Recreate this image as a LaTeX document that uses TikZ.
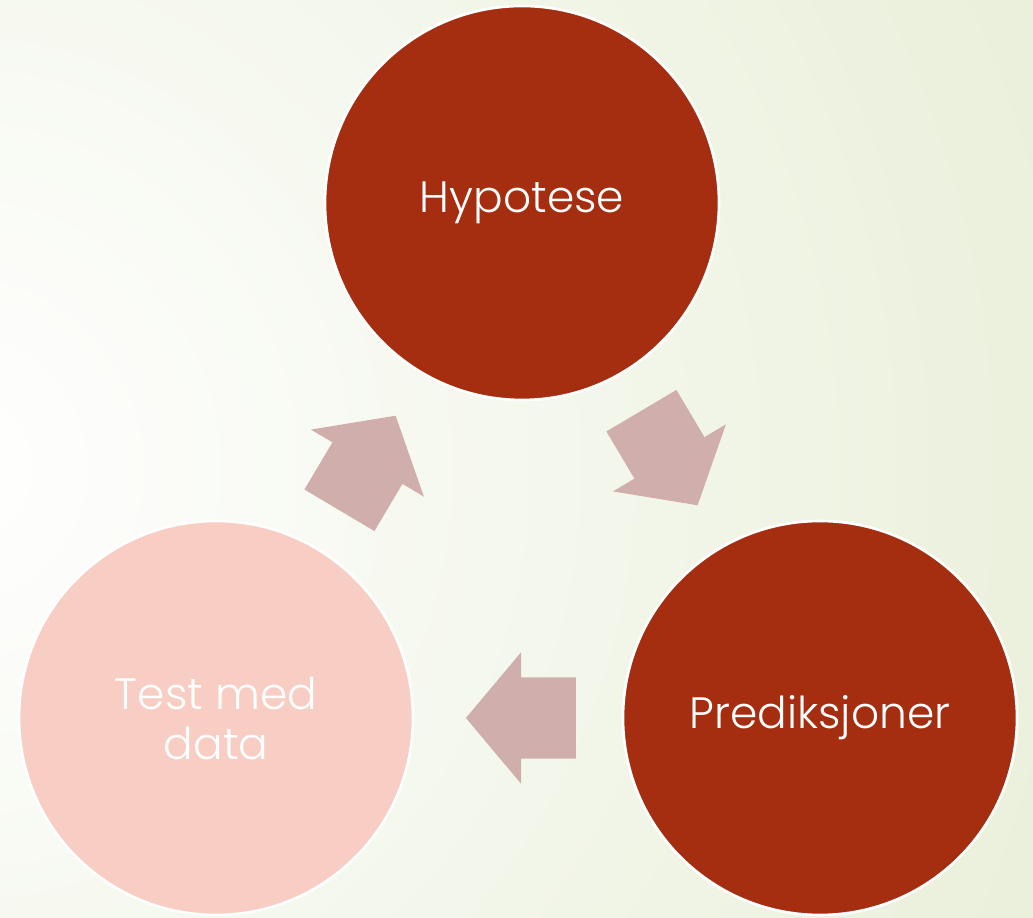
\documentclass[tikz,border=0pt]{standalone}
\usepackage{fontspec}
\setmainfont{Poppins Light}
\usepackage{tikz}
\usetikzlibrary{shapes.arrows}
\usetikzlibrary{calc}

\definecolor{rust}{RGB}{166,46,16}
\definecolor{blush}{RGB}{248,206,196}
\definecolor{dustrose}{RGB}{208,174,171}
\definecolor{sage}{RGB}{224,233,202}

\begin{document}
\begin{tikzpicture}[thick,
	step node/.style={circle,draw=white,line width=1.5pt,minimum size=7.88cm,
		inner sep=0pt,text=white,align=center,font=\fontsize{25}{28.5}\selectfont},
	block arrow/.style={single arrow,fill=dustrose,draw=none,inner xsep=0pt,
		inner ysep=0.8cm,minimum height=2.2cm,single arrow head extend=0.5cm,
		single arrow tip angle=100}]
	
	% background
	\useasboundingbox (0,0) rectangle (20.66,18.36);
	\begin{scope}
		\clip (0,0) rectangle (20.66,18.36);
		\shade[inner color=white,outer color=sage] (-1,9) circle (34cm);
	\end{scope}
	
	\node[step node,fill=rust] (hyp) at (10.44,14.30) {Hypotese};
	\node[step node,fill=rust] (pred) at (16.40,4.00) {Prediksjoner};
	\node[step node,fill=blush] (test) at (4.32,4.00) {Test med\\data};
	
	\node[block arrow,rotate=-59.3,xshift=-0.4cm] (a1) at ($(hyp)!0.5!(pred)$) {};
	\node[block arrow,rotate=180,xshift=-0.4cm] (a2) at ($(pred)!0.5!(test)$) {};
	\node[block arrow,rotate=59.3,xshift=-0.4cm] (a3) at ($(test)!0.5!(hyp)$) {};
\end{tikzpicture}
\end{document}
